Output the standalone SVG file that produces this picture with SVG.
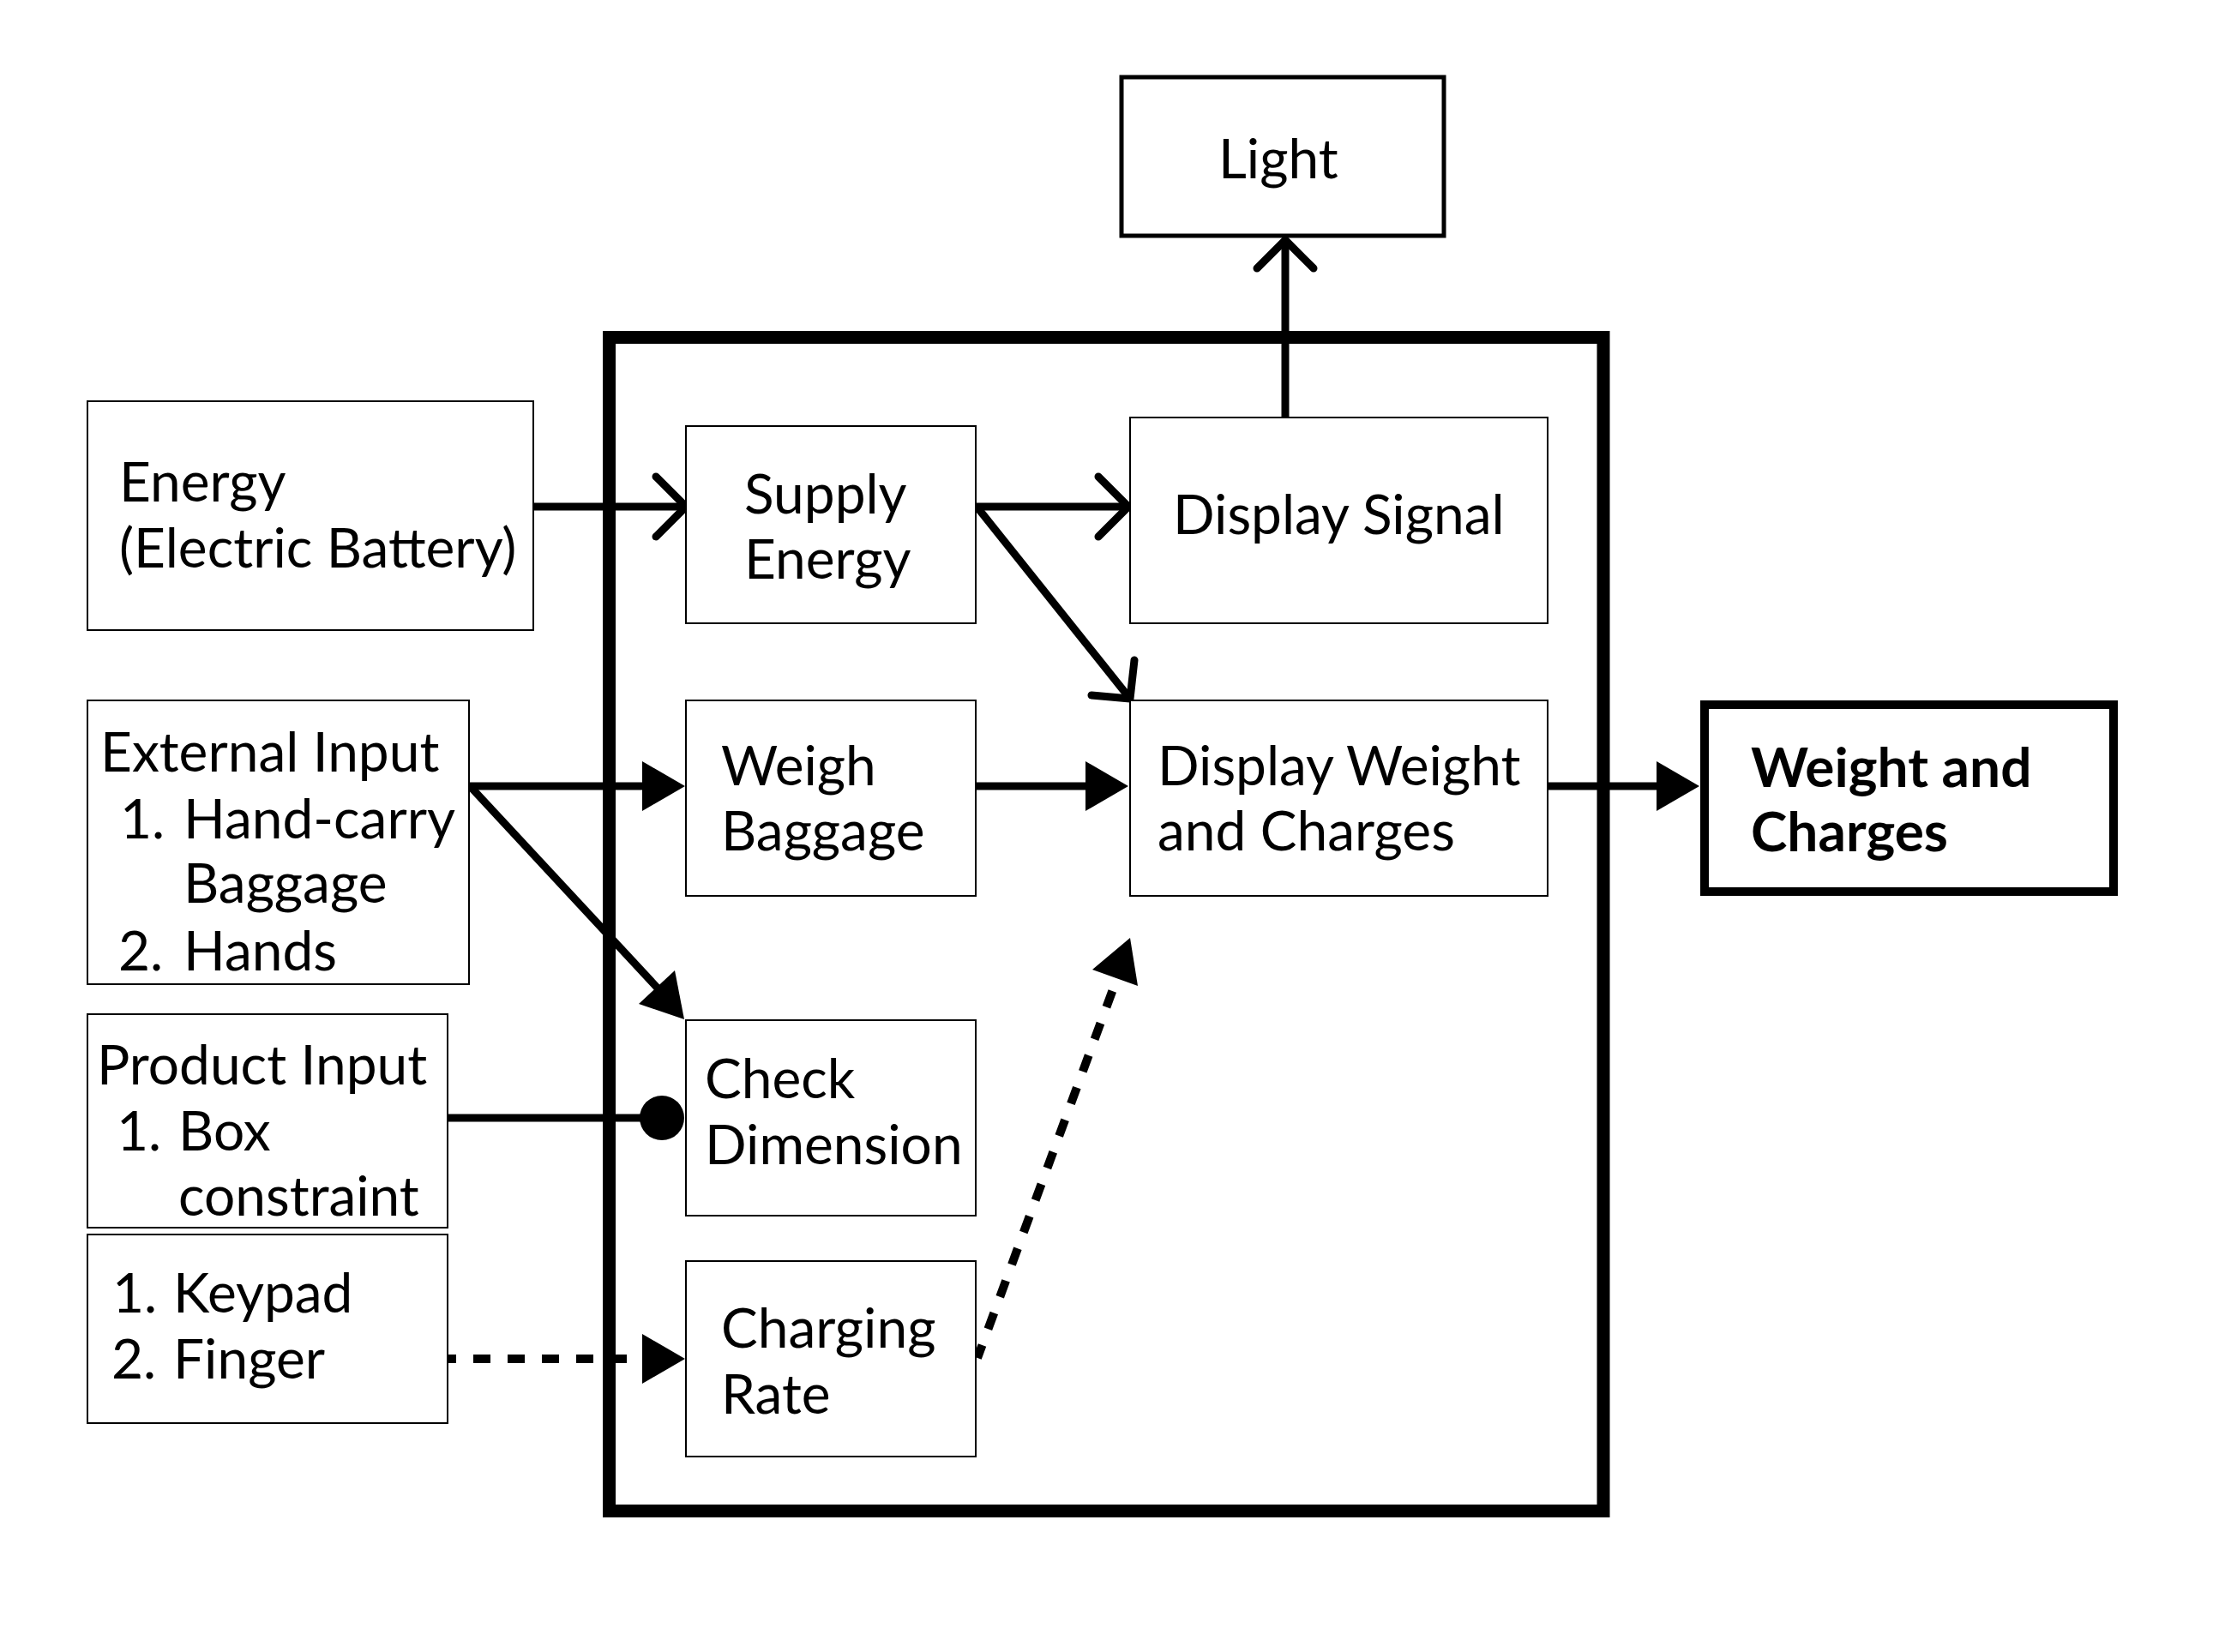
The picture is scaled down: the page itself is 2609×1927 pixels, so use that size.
<svg xmlns="http://www.w3.org/2000/svg" width="2609" height="1927" viewBox="0 0 2609 1927">
<defs>
<style>
.box{fill:#fff;stroke:#000;stroke-width:2}
.tbox{fill:#fff;stroke:#000;stroke-width:10}
.lbox{fill:#fff;stroke:#000;stroke-width:5}
.t{font-family:Lato,"Open Sans","Liberation Sans",sans-serif;font-size:64px;fill:#000}
.b{font-weight:bold}
.ln{fill:none;stroke:#000;stroke-width:9}
.dash{fill:none;stroke:#000;stroke-width:10;stroke-dasharray:20 20}
.chev{fill:none;stroke:#000;stroke-width:9;stroke-linecap:round;stroke-linejoin:round}
.tri{fill:#000;stroke:none}
</style>
</defs>
<rect width="2609" height="1927" fill="#fff"/>
<g id="system-boundary">
<rect x="710.5" y="393.5" width="1159.5" height="1369" fill="none" stroke="#000" stroke-width="15"/>
</g>
<g id="connectors">
<!-- Energy -> Supply -->
<line class="ln" x1="622" y1="591" x2="800" y2="591"/>
<polyline class="chev" points="765,556 800,591 765,626"/>
<!-- Supply -> Display Signal -->
<line class="ln" x1="1138" y1="591" x2="1316" y2="591"/>
<polyline class="chev" points="1281,556 1316,591 1281,626"/>
<!-- Supply -> Display Weight -->
<line class="ln" x1="1140" y1="592" x2="1318" y2="815"/>
<polyline class="chev" points="1323,770 1318,815 1273,811"/>
<!-- Display Signal -> Light -->
<line class="ln" x1="1499" y1="487" x2="1499" y2="280"/>
<polyline class="chev" points="1466,313 1499,280 1532,313"/>
<!-- External -> Weigh -->
<line class="ln" x1="547" y1="917" x2="752" y2="917"/>
<polygon class="tri" points="749,888 799,917 749,946"/>
<!-- External -> Check -->
<line class="ln" x1="549" y1="918" x2="772" y2="1158"/>
<polygon class="tri" points="798,1189 745,1171 787,1132"/>
<!-- Product -> Check -->
<line class="ln" x1="522" y1="1304" x2="772" y2="1304"/>
<circle cx="772" cy="1304" r="26" fill="#000"/>
<!-- Keypad -> Charging -->
<line class="dash" x1="522" y1="1585" x2="731" y2="1585" stroke-dashoffset="10"/>
<polygon class="tri" points="749,1556 799,1585 749,1614"/>
<!-- Charging -> Display Weight -->
<line class="dash" x1="1140" y1="1584" x2="1297.7" y2="1154.9" stroke-dashoffset="4"/>
<polygon class="tri" points="1318,1094 1327,1150 1274,1131"/>
<!-- Weigh -> Display Weight -->
<line class="ln" x1="1138" y1="917" x2="1270" y2="917"/>
<polygon class="tri" points="1266,888 1316,917 1266,946"/>
<!-- Display Weight -> Output -->
<line class="ln" x1="1805" y1="917" x2="1936" y2="917"/>
<polygon class="tri" points="1932,888 1982,917 1932,946"/>
</g>
<g id="light">
<rect class="lbox" x="1308" y="90" width="376" height="185"/>
<text class="t" x="1421" y="208">Light</text>
</g>
<g id="energy">
<rect class="box" x="102" y="468" width="520" height="267"/>
<text class="t" x="139" y="585">Energy</text>
<text class="t" x="139" y="662">(Electric Battery)</text>
</g>
<g id="external-input">
<rect class="box" x="102" y="817" width="445" height="331"/>
<text class="t" x="117" y="900">External Input</text>
<text class="t" x="140" y="978">1.</text><text class="t" x="214" y="978">Hand-carry</text>
<text class="t" x="214" y="1053">Baggage</text>
<text class="t" x="138" y="1132">2.</text><text class="t" x="214" y="1132">Hands</text>
</g>
<g id="product-input">
<rect class="box" x="102" y="1183" width="420" height="249"/>
<text class="t" x="113" y="1265">Product Input</text>
<text class="t" x="136" y="1342">1.</text><text class="t" x="208" y="1342">Box</text>
<text class="t" x="208" y="1418">constraint</text>
</g>
<g id="keypad">
<rect class="box" x="102" y="1440" width="420" height="220"/>
<text class="t" x="131" y="1531">1.</text><text class="t" x="202" y="1531">Keypad</text>
<text class="t" x="130" y="1608">2.</text><text class="t" x="202" y="1608">Finger</text>
</g>
<g id="supply-energy">
<rect class="box" x="800" y="497" width="338" height="230"/>
<text class="t" x="868" y="599">Supply</text>
<text class="t" x="868" y="675">Energy</text>
</g>
<g id="display-signal">
<rect class="box" x="1318" y="487" width="487" height="240"/>
<text class="t" x="1368" y="623">Display Signal</text>
</g>
<g id="weigh-baggage">
<rect class="box" x="800" y="817" width="338" height="228"/>
<text class="t" x="841" y="916">Weigh</text>
<text class="t" x="841" y="992">Baggage</text>
</g>
<g id="display-weight">
<rect class="box" x="1318" y="817" width="487" height="228"/>
<text class="t" x="1350" y="916">Display Weight</text>
<text class="t" x="1350" y="992">and Charges</text>
</g>
<g id="check-dimension">
<rect class="box" x="800" y="1190" width="338" height="228"/>
<text class="t" x="822" y="1281">Check</text>
<text class="t" x="822" y="1358">Dimension</text>
</g>
<g id="charging-rate">
<rect class="box" x="800" y="1471" width="338" height="228"/>
<text class="t" x="841" y="1572">Charging</text>
<text class="t" x="841" y="1649">Rate</text>
</g>
<g id="weight-charges">
<rect class="tbox" x="1988" y="822" width="477" height="218"/>
<text class="t b" x="2042" y="918">Weight and</text>
<text class="t b" x="2042" y="993">Charges</text>
</g>
</svg>
